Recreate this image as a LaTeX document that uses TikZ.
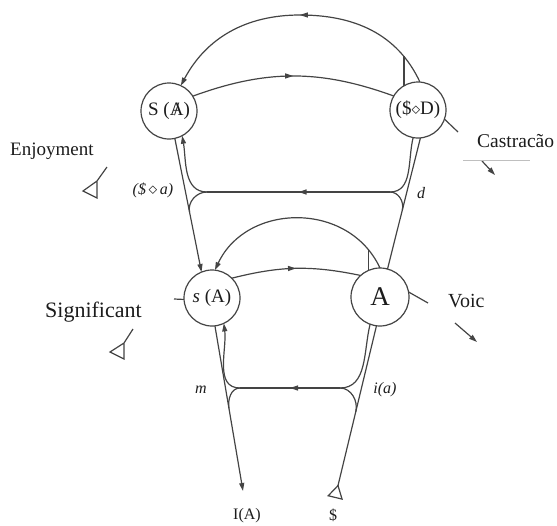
\documentclass[tikz,border=0pt]{standalone}
\usepackage{fontspec}
\setmainfont{Liberation Serif}
\usepackage{tikz}
\usetikzlibrary{arrows.meta, calc, backgrounds, decorations.markings}
\definecolor{linegray}{HTML}{444444}
\definecolor{inkblack}{HTML}{1c1c1c}
\newcommand{\barA}{\ooalign{A\cr\hidewidth/\hidewidth\cr}}
\tikzstyle{spot} = [circle, draw=linegray, fill=white, line width=1.2pt, minimum size=56pt,
  inner sep=0pt, outer sep=0pt, text=inkblack, font=\fontsize{19}{19}\selectfont]
\tikzstyle{vec} = [draw=linegray, line width=1.2pt]
\tikzstyle{endtip} = [-{Triangle[length=8pt,width=5pt]}]
\tikzstyle{midarrow} = [postaction={decorate}, decoration={markings,
  mark=at position 0.5 with {\arrow{Triangle[length=8pt,width=5pt]}}}]
\tikzstyle{caption} = [anchor=base west, inner sep=0pt, text=inkblack, font=\fontsize{20}{20}\selectfont]
\tikzstyle{lbl} = [inner sep=0pt, text=inkblack, font=\fontsize{16}{16}\selectfont\itshape]

\begin{document}
\begin{tikzpicture}[x=1pt, y=1pt]
  \useasboundingbox (0,0) rectangle (557,-525);

  % Places
  \node (SA) [spot] at (169,-111) {S (\barA)};
  \node (SD) [spot] at (418,-110) {(\$$\diamond$D)};
  \node (sA) [spot] at (212,-298) {\textit{s} (A)};
  \node (A) [spot, minimum size=58pt, font=\fontsize{27}{27}\selectfont] at (380,-297) {A};

  % Free ends
  \coordinate (topMid) at (300,-15);
  \coordinate (jUL) at (207,-192);
  \coordinate (jUR) at (390,-192);
  \coordinate (jLL) at (240,-388);
  \coordinate (jLR) at (340,-388);
  \coordinate (tipIA) at (243,-491);
  \coordinate (tailS) at (335,-498);
  \coordinate (mUL) at ($(SA.-78)!0.55!(sA.112)$);
  \coordinate (mUR) at ($(A.75)!0.45!(SD.-85)$);
  \coordinate (mLL) at ($(sA.-84)!0.5!(tipIA)$);
  \coordinate (mLR) at ($(tailS)!0.5!(A.-97)$);
  \coordinate (sStub) at (174,-299);
  \coordinate (voicEnd) at (428,-303);
  \coordinate (castEnd) at (458,-132);

  % Labels
  \node (enjoy) [caption, font=\fontsize{19}{19}\selectfont] at (10,-155) {Enjoyment};
  \node (signif) [caption, font=\fontsize{22}{22}\selectfont] at (45,-317) {Significant};
  \node (castr) [caption, font=\fontsize{19.5}{19.5}\selectfont] at (477,-147) {Castracão};
  \node (voic) [caption] at (448,-307) {Voic};
  \node (lSa) [lbl] at (153,-190) {(\$\,$\diamond$\,\textit{a})};
  \node (ld) [lbl] at (421,-193) {d};
  \node (lm) [lbl] at (201,-390) {m};
  \node (lia) [lbl] at (385,-390) {i(a)};
  \node (IA) [lbl, font=\fontsize{16}{16}\selectfont] at (247,-516) {I(A)};
  \node (Sbar) [lbl, font=\fontsize{16}{16}\selectfont] at (333,-515) {\$};

  \begin{pgfonlayer}{background}
    % main vector
    \draw[vec, {Triangle[open,reversed,length=14pt,width=16pt]}-] (tailS) -- (A.-97);
    \draw[vec] (A.75) -- (SD.-85);
    \draw[vec, midarrow, endtip] (SD.86) to[out=115,in=0] coordinate[pos=0.2] (topFork) (topMid)
      to[out=180,in=62] (SA.65);
    \draw[vec] (topFork) -- (topFork |- SD.center);
    \draw[vec, endtip] (SA.-78) -- (sA.112);
    \draw[vec, endtip] (sA.-84) -- (tipIA);

    % chains
    \draw[vec, midarrow] (SA.32) to[bend left=20] (SD.150);
    \draw[vec] (SD.-19) -- (castEnd);
    \draw[vec] (sStub) -- (sA.183);
    \draw[vec, midarrow] (sA.45) to[bend left=13] (A.132);
    \draw[vec] (A.10) -- (voicEnd);
    \draw[vec, endtip] (A.90) to[out=115,in=65,looseness=1.15] coordinate[pos=0.1] (lowFork) (sA.84);
    \draw[vec] (lowFork) -- (lowFork |- A.center);

    % upper loop
    \draw[vec, midarrow] (jUR) -- (jUL);
    \draw[vec, endtip] (jUL) to[out=180,in=-80] (SA.-62);
    \draw[vec] (jUL) to[out=180,in=101] (mUL);
    \draw[vec] (jUR) to[out=0,in=-104] (SD.-100);
    \draw[vec] (jUR) to[out=0,in=76] (mUR);

    % lower loop
    \draw[vec, midarrow] (jLR) -- (jLL);
    \draw[vec, endtip] (jLL) to[out=180,in=-83] (sA.-65);
    \draw[vec] (jLL) to[out=180,in=99] (mLL);
    \draw[vec] (jLR) to[out=0,in=-104] (A.-110);
    \draw[vec] (jLR) to[out=0,in=76] (mLR);
  \end{pgfonlayer}

  % Markers
  \draw[vec] (107,-167) -- (97,-181) -- (97,-198) -- (83,-191) -- (97,-181);
  \draw[vec] (133,-329) -- (124,-343) -- (124,-359) -- (110,-352) -- (124,-343);
  \draw[vec, endtip] (455,-323) -- (477,-342);
  \draw[vec, endtip] (482,-161) -- (495,-175);
  \draw[gray!50, line width=0.6pt] (463,-160) -- (530,-160);
\end{tikzpicture}
\end{document}
